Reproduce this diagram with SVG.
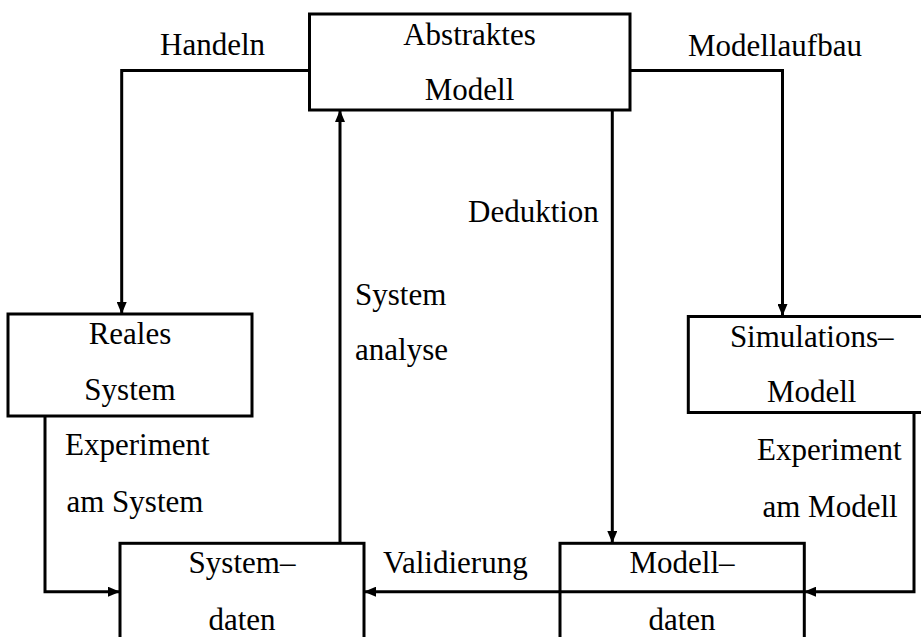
<svg xmlns="http://www.w3.org/2000/svg" width="921" height="637" viewBox="0 0 921 637">
<style>
.box{fill:#fff;stroke:#000;stroke-width:3}
.c{fill:none;stroke:#000;stroke-width:3}
text{font-family:"Liberation Serif","Times New Roman",serif;font-size:31px;fill:#000}
.m{text-anchor:middle}
</style>
<defs>
<marker id="ah" viewBox="0 0 12 10" refX="12" refY="5" markerWidth="12" markerHeight="10" markerUnits="userSpaceOnUse" orient="auto">
<path d="M0,0 L12,5 L0,10 Z" fill="#000"/>
</marker>
</defs>
<g id="connectors">
<path class="c" d="M309,70.5 H121.7 V314" marker-end="url(#ah)"/>
<path class="c" d="M630,70.5 H782.5 V316" marker-end="url(#ah)"/>
<path class="c" d="M612.3,110 V543" marker-end="url(#ah)"/>
<path class="c" d="M340,543 V110" marker-end="url(#ah)"/>
<path class="c" d="M45,416 V591.7 H120" marker-end="url(#ah)"/>
<path class="c" d="M914,412.7 V591.7 H804" marker-end="url(#ah)"/>
</g>
<g id="abstraktes-modell">
<rect class="box" x="309.5" y="14" width="320.5" height="96"/>
<text class="m" x="469.5" y="45">Abstraktes</text>
<text class="m" x="469.5" y="100">Modell</text>
</g>
<g id="reales-system">
<rect class="box" x="8" y="314" width="244" height="102"/>
<text class="m" x="130" y="343.5">Reales</text>
<text class="m" x="130" y="400">System</text>
</g>
<g id="simulations-modell">
<rect class="box" x="688.3" y="316.5" width="250" height="96"/>
<text class="m" x="811.7" y="347">Simulations–</text>
<text class="m" x="811.7" y="402">Modell</text>
</g>
<g id="system-daten">
<rect class="box" x="120" y="543.3" width="244" height="110"/>
<text class="m" x="242" y="573">System–</text>
<text class="m" x="242" y="630">daten</text>
</g>
<g id="modell-daten">
<rect class="box" x="560" y="543.3" width="244.3" height="110"/>
<text class="m" x="682" y="573">Modell–</text>
<text class="m" x="682" y="630">daten</text>
</g>
<g id="validierung-connector">
<path class="c" d="M804,591.7 H364" marker-end="url(#ah)"/>
</g>
<g id="labels">
<text x="160" y="55">Handeln</text>
<text x="688" y="55.5">Modellaufbau</text>
<text x="468" y="221.5">Deduktion</text>
<text x="355" y="305">System</text>
<text x="355" y="360">analyse</text>
<text x="65" y="455">Experiment</text>
<text x="66.5" y="511.5">am System</text>
<text x="757" y="460">Experiment</text>
<text x="762.5" y="516.5">am Modell</text>
<text x="383" y="573">Validierung</text>
</g>
</svg>
